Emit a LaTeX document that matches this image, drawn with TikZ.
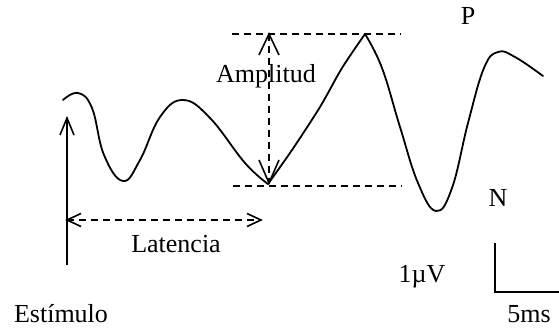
\documentclass[tikz,border=0pt]{standalone}
\usepackage{fontspec}
\setmainfont{Liberation Serif}
\usetikzlibrary{calc}
\begin{document}
\begin{tikzpicture}[x=1pt,y=-1pt,
  lbl/.style={font=\fontsize{26}{31}\selectfont, inner sep=0pt, anchor=base},
  wave/.style={line width=1.8pt, line join=round, line cap=round},
  dsh/.style={line width=1.6pt, dash pattern=on 7pt off 5pt},
  barb/.style={line width=1.6pt, line join=miter}]
\useasboundingbox (0,0) rectangle (559,328);
% wave
\draw[wave] plot[smooth,tension=0.7] coordinates {(63,100) (78,93) (92,108) (104,155) (123,181) (140,160) (160,117) (183,100) (210,118) (245,163) (268,184)};
\draw[wave] plot[smooth,tension=0.5] coordinates {(268,184) (292,150) (320,107) (342,68) (365,34)};
\draw[wave] plot[smooth,tension=0.7] coordinates {(365,34) (382,68) (400,127) (418,183) (436,211) (452,188) (468,123) (484,68) (498,52) (515,57) (543,76)};
% coordinates
\coordinate (topL) at (232,34);
\coordinate (topR) at (401,34);
\coordinate (botL) at (233,186);
\coordinate (botR) at (402,186);
\coordinate (ampT) at (269,34);
\coordinate (ampB) at (269,183);
\coordinate (stimB) at (67,265);
\coordinate (stimT) at (67,118);
\coordinate (latL) at (67,220);
\coordinate (latR) at (261,220);
\coordinate (barT) at (495,243);
\coordinate (barC) at (495,292);
\coordinate (barR) at (559,292);
% dashed guides
\draw[dsh] (topL) -- (topR);
\draw[dsh] (botL) -- (botR);
\draw[dsh] (ampT) -- (ampB);
\draw[barb] ($(ampT)+(-10,21)$) -- (ampT) -- ($(ampT)+(10,21)$);
\draw[barb] ($(ampB)+(-10,-23)$) -- (ampB) -- ($(ampB)+(10,-23)$);
\draw[dsh] (latL) -- (latR);
\draw[barb] ($(latL)+(14,-6.5)$) -- (latL) -- ($(latL)+(14,6.5)$);
\draw[barb] ($(latR)+(-14,-6.5)$) -- (latR) -- ($(latR)+(-14,6.5)$);
\draw[barb] (stimB) -- (stimT);
\draw[barb] ($(stimT)+(-7,17)$) -- (stimT) -- ($(stimT)+(7,17)$);
% scale bar
\draw[barb] (barT) -- (barC) -- (barR);
% labels
\node[lbl] (amp) at (266,83) {Amplitud};
\node[lbl] (lat) at (176,253) {Latencia};
\node[lbl] (est) at (61,323) {Estímulo};
\node[lbl] (p) at (468,25) {P};
\node[lbl] (n) at (498,207) {N};
\node[lbl] (uv) at (422,283) {1µV};
\node[lbl] (ms) at (529,323) {5ms};
\end{tikzpicture}
\end{document}
